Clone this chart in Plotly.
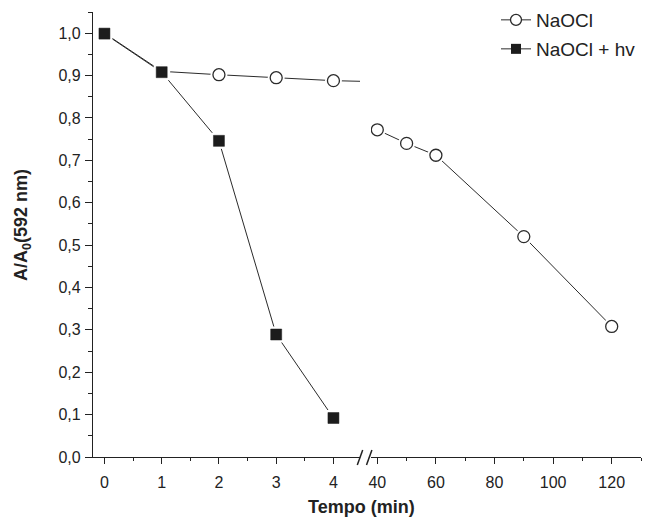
import plotly.graph_objects as go

# data
t_naocl = [0, 1, 2, 3, 4, 40, 50, 60, 90, 120]
a_naocl = [1.0, 0.91, 0.902, 0.895, 0.888, 0.772, 0.740, 0.712, 0.520, 0.308]
t_hv = [0, 1, 2, 3, 4]
a_hv = [0.999, 0.908, 0.746, 0.289, 0.092]
name_naocl = "NaOCl"
name_hv = "NaOCl + hv"

W, H = 654, 519
# plot area in page pixels: x 93..641, y 12..457
PX0, PX1, PY0, PY1 = 93, 641, 12, 457
L, R, T, B = PX0, W - PX1, PY0, H - PY1
pw = PX1 - PX0
ph = PY1 - PY0

def px2x(px):
    return (px - PX0) / pw

def py2y(py):
    return (PY1 - py) / ph

LINE = "#2b2b2b"
FONT = "Liberation Sans, Arial, sans-serif"

fig = go.Figure()

def add_series(xa, t, a):
    fig.add_trace(go.Scatter(x=t, y=a, xaxis=xa, yaxis="y", mode="lines",
                             line=dict(color=LINE, width=1), showlegend=False,
                             hoverinfo="skip"))

def add_markers(xa, t, a, kind):
    sym = "circle" if kind == "c" else "square"
    size = 12 if kind == "c" else 11
    # white halo (gap between line and marker)
    fig.add_trace(go.Scatter(x=t, y=a, xaxis=xa, yaxis="y", mode="markers",
                             marker=dict(symbol=sym, size=size + 5, color="white",
                                         line=dict(width=0)),
                             showlegend=False, hoverinfo="skip"))
    if kind == "c":
        mk = dict(symbol="circle", size=size, color="white",
                  line=dict(color=LINE, width=1.3))
    else:
        mk = dict(symbol="square", size=size, color="#1c1c1c",
                  line=dict(color="#1c1c1c", width=0.5))
    fig.add_trace(go.Scatter(x=t, y=a, xaxis=xa, yaxis="y", mode="markers",
                             marker=mk, showlegend=False))

for xa in ["x", "x2"]:
    add_series(xa, t_naocl, a_naocl)
add_series("x", t_hv, a_hv)
for xa in ["x", "x2"]:
    add_markers(xa, t_naocl, a_naocl, "c")
add_markers("x", t_hv, a_hv, "s")

# legend entries
fig.add_trace(go.Scatter(x=[None], y=[None], mode="lines+markers", name=name_naocl,
                         line=dict(color=LINE, width=1),
                         marker=dict(symbol="circle", size=11, color="white",
                                     line=dict(color=LINE, width=1.3)),
                         legend="legend"))
fig.add_trace(go.Scatter(x=[None], y=[None], mode="lines+markers", name=name_hv,
                         line=dict(color=LINE, width=1),
                         marker=dict(symbol="square", size=10, color="#1c1c1c"),
                         legend="legend2"))

tickfont = dict(family=FONT, size=16, color="#222")
axcommon = dict(showline=True, linecolor="#222", linewidth=1.3, ticks="outside",
                tickwidth=1.2, tickcolor="#222", showgrid=False,
                zeroline=False, tickfont=tickfont, automargin=False)

left_end = px2x(360)
right_start = px2x(371)

legfont = dict(family=FONT, size=19, color="#222")
fig.update_layout(
    width=W, height=H,
    margin=dict(l=L, r=R, t=T, b=B, autoexpand=False),
    paper_bgcolor="white", plot_bgcolor="white",
    separators=",.",
    xaxis=dict(domain=[0, left_end], range=[-0.2, 4.464], dtick=1, tick0=0,
               anchor="y", ticklen=6, ticklabelstandoff=5,
               minor=dict(ticks="outside", ticklen=3, dtick=0.5, tickcolor="#222",
                          tickwidth=1), **axcommon),
    xaxis2=dict(domain=[right_start, 1], range=[37.85, 130], dtick=20, tick0=0,
                anchor="y", ticklen=6, ticklabelstandoff=5,
                minor=dict(ticks="outside", ticklen=3, dtick=10, tickcolor="#222",
                           tickwidth=1), **axcommon),
    yaxis=dict(domain=[0, 1], range=[0, 1.05], dtick=0.1, tick0=0, tickformat=".1f",
               anchor="x", ticklen=7, ticklabelstandoff=1,
               minor=dict(ticks="outside", ticklen=4, dtick=0.05, tickcolor="#222",
                          tickwidth=1), **axcommon),
    legend=dict(x=px2x(496), y=py2y(20), xanchor="left", yanchor="middle",
                bgcolor="rgba(0,0,0,0)", font=legfont),
    legend2=dict(x=px2x(496), y=py2y(49), xanchor="left", yanchor="middle",
                 bgcolor="rgba(0,0,0,0)", font=legfont),
    showlegend=True,
)

# axis titles
fig.add_annotation(text="<b>Tempo (min)</b>", xref="paper", yref="paper",
                   x=px2x(361), y=py2y(507), xanchor="center", yanchor="middle",
                   showarrow=False, font=dict(family=FONT, size=18, color="#222"))
fig.add_annotation(text="<b>A/A<sub>0</sub>(592 nm)</b>", xref="paper", yref="paper",
                   x=px2x(22), y=py2y(225), xanchor="center", yanchor="middle",
                   showarrow=False, textangle=-90,
                   font=dict(family=FONT, size=18, color="#222"))

# axis break marks
for (x0, x1) in [(357.3, 362.7), (366.5, 371.9)]:
    fig.add_shape(type="line", xref="paper", yref="paper",
                  x0=px2x(x0), y0=py2y(465), x1=px2x(x1), y1=py2y(450),
                  line=dict(color="#222", width=1.5))

fig.write_html("out.html", config={"displayModeBar": False},
               post_script="document.body.style.margin='0';"
                           "document.body.style.overflow='hidden';")
